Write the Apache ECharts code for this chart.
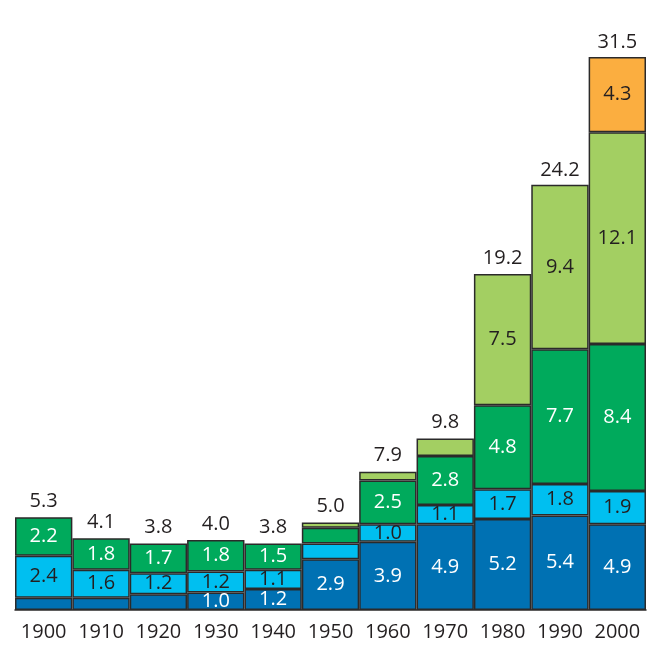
<!DOCTYPE html>
<html>
<head>
<meta charset="utf-8">
<script src="https://cdn.jsdelivr.net/npm/echarts@6/dist/echarts.min.js"></script>
<style>html,body{margin:0;padding:0;background:#fff}#c{width:657px;height:645px}</style>
</head>
<body>
<div id="c"></div>
<script>
var categories = ['1900','1910','1920','1930','1940','1950','1960','1970','1980','1990','2000'];
var darkBlue   = [0.7, 0.7, 0.9, 1.0, 1.2, 2.9, 3.9, 4.9, 5.2, 5.4, 4.9];
var lightBlue  = [2.4, 1.6, 1.2, 1.2, 1.1, 0.9, 1.0, 1.1, 1.7, 1.8, 1.9];
var green      = [2.2, 1.8, 1.7, 1.8, 1.5, 0.9, 2.5, 2.8, 4.8, 7.7, 8.4];
var lightGreen = [0, 0, 0, 0, 0, 0.3, 0.5, 1.0, 7.5, 9.4, 12.1];
var orange     = [0, 0, 0, 0, 0, 0, 0, 0, 0, 0, 4.3];
var totals     = ['5.3','4.1','3.8','4.0','3.8','5.0','7.9','9.8','19.2','24.2','31.5'];
var darkBlueLabels   = ['', '', '', '1.0', '1.2', '2.9', '3.9', '4.9', '5.2', '5.4', '4.9'];
var lightBlueLabels  = ['2.4', '1.6', '1.2', '1.2', '1.1', '', '1.0', '1.1', '1.7', '1.8', '1.9'];
var greenLabels      = ['2.2', '1.8', '1.7', '1.8', '1.5', '', '2.5', '2.8', '4.8', '7.7', '8.4'];
var lightGreenLabels = ['', '', '', '', '', '', '', '', '7.5', '9.4', '12.1'];
var orangeLabels     = ['', '', '', '', '', '', '', '', '', '', '4.3'];

var FONT = '"Open Sans", "Noto Sans", sans-serif';
var FS = 20;
var border = '#2b2a2a';

function mk(name, vals, labels, color, textColor) {
  return {
    name: name, type: 'bar', stack: 's', barCategoryGap: 0, barGap: 0,
    data: vals.map(function (v) { return v === 0 ? null : v; }),
    itemStyle: { color: color, borderColor: border, borderWidth: 1.5 },
    label: {
      show: true, position: 'inside', color: textColor,
      fontFamily: FONT, fontSize: FS,
      formatter: function (p) { return labels[p.dataIndex]; }
    },
    emphasis: { disabled: true }, silent: true
  };
}

var chart = echarts.init(document.getElementById('c'), null, { renderer: 'canvas' });
chart.setOption({
  animation: false,
  backgroundColor: '#ffffff',
  grid: { left: 15, right: 11, top: 15, bottom: 35 },
  xAxis: {
    type: 'category', data: categories,
    axisLine: { show: true, lineStyle: { color: border, width: 1.5 } },
    axisTick: { show: false },
    axisLabel: { interval: 0, hideOverlap: false, color: '#231f20', fontFamily: FONT, fontSize: FS, margin: 12 }
  },
  yAxis: { type: 'value', min: 0, max: 34, show: false, splitLine: { show: false } },
  series: [
    mk('a', darkBlue, darkBlueLabels, '#0071b3', '#ffffff'),
    mk('b', lightBlue, lightBlueLabels, '#00bff0', '#231f20'),
    mk('c', green, greenLabels, '#00aa5c', '#ffffff'),
    mk('d', lightGreen, lightGreenLabels, '#a3cf62', '#231f20'),
    mk('e', orange, orangeLabels, '#fbae40', '#231f20'),
    {
      type: 'scatter', symbolSize: 0,
      data: totals.map(function (t) { return parseFloat(t); }),
      itemStyle: { color: '#ffffff', opacity: 1 },
      label: {
        show: true, position: 'top', distance: 6, color: '#231f20', opacity: 1,
        fontFamily: FONT, fontSize: FS,
        formatter: function (p) { return totals[p.dataIndex]; }
      },
      emphasis: { disabled: true },
      silent: true
    }
  ]
});
</script>
</body>
</html>
